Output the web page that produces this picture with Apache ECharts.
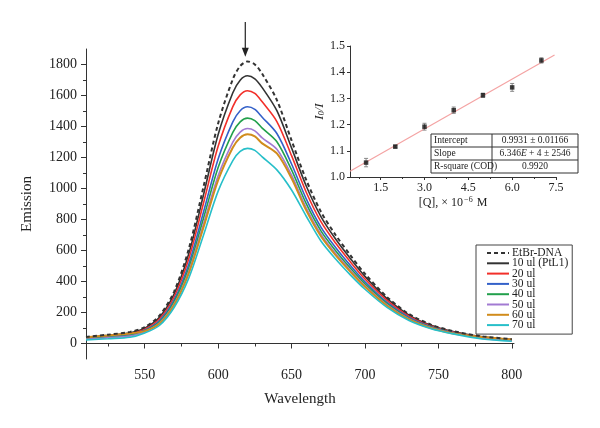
<!DOCTYPE html>
<html>
<head>
<meta charset="utf-8">
<script src="https://cdn.jsdelivr.net/npm/echarts@6/dist/echarts.min.js"></script>
<style>
html, body { margin: 0; padding: 0; background: #fff; }
#chart { width: 600px; height: 428px; }
</style>
</head>
<body>
<div id="chart"></div>
<script>
// emission spectra (wavelength in nm)
const wavelengths = [510, 525, 540, 550, 560, 570, 580, 590, 600, 610, 615, 620, 625, 630, 640, 650, 660, 670, 680, 690, 700, 715, 730, 745, 760, 780, 800]
const etbrDna = [42, 57, 75, 105, 180, 335, 610, 1010, 1420, 1705, 1790, 1820, 1800, 1740, 1570, 1310, 1055, 850, 700, 570, 450, 300, 190, 122, 80, 46, 28]
const ul10 = [39, 53, 69, 99, 169, 318, 579, 958, 1348, 1618, 1699, 1727, 1708, 1651, 1502, 1262, 1016, 819, 674, 549, 433, 289, 183, 117, 77, 43, 26]
const ul20 = [35, 48, 63, 92, 158, 300, 547, 905, 1272, 1528, 1604, 1631, 1613, 1559, 1432, 1212, 976, 786, 648, 527, 416, 278, 176, 113, 74, 40, 24]
const ul30 = [32, 43, 57, 86, 147, 281, 512, 847, 1191, 1430, 1502, 1527, 1510, 1460, 1355, 1158, 933, 751, 619, 504, 398, 265, 168, 108, 71, 37, 21]
const ul40 = [29, 40, 52, 81, 138, 268, 487, 807, 1135, 1362, 1430, 1454, 1438, 1390, 1302, 1120, 902, 727, 599, 487, 385, 257, 162, 104, 68, 35, 20]
const ul50 = [27, 37, 48, 76, 131, 255, 465, 770, 1082, 1299, 1364, 1387, 1372, 1326, 1253, 1086, 875, 705, 580, 473, 373, 249, 158, 101, 66, 33, 18]
const ul60 = [40, 52, 65, 80, 127, 249, 453, 749, 1054, 1265, 1328, 1350, 1336, 1291, 1226, 1066, 859, 692, 570, 464, 366, 244, 155, 99, 65, 42, 26]
const ul70 = [23, 31, 40, 68, 116, 232, 422, 699, 983, 1180, 1239, 1259, 1246, 1204, 1120, 990, 821, 661, 545, 443, 350, 233, 148, 95, 62, 29, 15]

const seriesNames = ['EtBr-DNA', '10 ul (PtL1)', '20 ul', '30 ul', '40 ul', '50 ul', '60 ul', '70 ul']
const seriesData = [etbrDna, ul10, ul20, ul30, ul40, ul50, ul60, ul70]
const seriesColors = ['#333333', '#333333', '#f2302a', '#3461c9', '#22a04c', '#a27ad2', '#d18c1c', '#27bfc9']

const xLabels = [550, 600, 650, 700, 750, 800]
const xMinor = [525, 575, 625, 675, 725, 775]
const yLabels = [0, 200, 400, 600, 800, 1000, 1200, 1400, 1600, 1800]
const yMinor = [100, 300, 500, 700, 900, 1100, 1300, 1500, 1700]

// inset: Stern-Volmer plot
const qConc = [1, 2, 3, 4, 5, 6, 7]
const ratioI0I = [1.055, 1.116, 1.192, 1.255, 1.312, 1.342, 1.445]
const ratioErr = [0.016, 0.005, 0.013, 0.012, 0.008, 0.015, 0.010]
const fitX = [0.45, 7.45]
const fitY = [1.022, 1.466]
const insetXLabels = [1.5, 3.0, 4.5, 6.0, 7.5]
const insetXMinor = [0.75, 2.25, 3.75, 5.25, 6.75]
const tableRows = [
    ['Intercept', '0.9931 ± 0.01166'],
    ['Slope', '6.346{it|E} + 4 ± 2546'],
    ['R-square (COD)', '0.9920']
]

const font = 'Liberation Serif, Times New Roman, serif'
const chart = echarts.init(document.getElementById('chart'))

// main spectra series (dashed one drawn last, on top)
const lines = seriesNames.map((name, i) => ({
    name: name,
    type: 'line',
    xAxisIndex: 0,
    yAxisIndex: 0,
    smooth: 0.3,
    symbol: 'none',
    showSymbol: false,
    z: i === 0 ? 10 : 2 + i,
    lineStyle: {
        color: seriesColors[i],
        width: i === 0 ? 2 : (i === 6 ? 2 : 1.6),
        type: i === 0 ? [4, 3] : 'solid'
    },
    itemStyle: { color: seriesColors[i] },
    data: wavelengths.map((w, k) => [w, seriesData[i][k]])
}))

// table inside the inset
const tbl = { x: 431, y: 134, w: 147, h: 13, split: 492 }
const tableGraphic = []
tableGraphic.push({
    type: 'rect', shape: { x: tbl.x, y: tbl.y, width: tbl.w, height: tbl.h * tableRows.length },
    style: { fill: '#fff', stroke: '#333', lineWidth: 1 }, z: 100
})
tableRows.forEach((row, r) => {
    if (r > 0) {
        tableGraphic.push({
            type: 'line', shape: { x1: tbl.x, y1: tbl.y + r * tbl.h, x2: tbl.x + tbl.w, y2: tbl.y + r * tbl.h },
            style: { stroke: '#333', lineWidth: 1 }, z: 101
        })
    }
    tableGraphic.push({
        type: 'text', x: tbl.x + 3, y: tbl.y + r * tbl.h + tbl.h / 2, z: 102,
        style: { text: row[0], font: '9.5px ' + font, fill: '#222', verticalAlign: 'middle' }
    })
    tableGraphic.push({
        type: 'text', x: (tbl.split + tbl.x + tbl.w) / 2, y: tbl.y + r * tbl.h + tbl.h / 2, z: 102,
        style: {
            text: row[1], font: '9.5px ' + font, fill: '#222', align: 'center', verticalAlign: 'middle',
            rich: { it: { fontStyle: 'italic', fontSize: 9.5, fontFamily: font } }
        }
    })
})
tableGraphic.push({
    type: 'line', shape: { x1: tbl.split, y1: tbl.y, x2: tbl.split, y2: tbl.y + tbl.h * tableRows.length },
    style: { stroke: '#333', lineWidth: 1 }, z: 101
})

const axisCommon = {
    axisLine: { show: true, lineStyle: { color: '#333', width: 1 } },
    splitLine: { show: false }
}

chart.setOption({
    animation: false,
    backgroundColor: '#fff',
    textStyle: { fontFamily: font },
    grid: [
        { left: 86, top: 49, width: 428, height: 310 },
        { left: 350, top: 46, width: 206, height: 131 }
    ],
    legend: {
        data: seriesNames,
        orient: 'vertical',
        left: 476,
        top: 245,
        itemWidth: 22,
        itemHeight: 10,
        itemGap: -1.7,
        padding: [2, 4, 3, 10],
        borderColor: '#444',
        borderWidth: 1,
        backgroundColor: '#fff',
        itemStyle: { opacity: 0, borderWidth: 0 },
        textStyle: { fontFamily: font, fontSize: 11.5, lineHeight: 10, height: 10, color: '#222', padding: [0, 0, 0, -2] }
    },
    xAxis: [
        {
            gridIndex: 0, type: 'value', min: 510, max: 801.5,
            name: 'Wavelength', nameLocation: 'middle', nameGap: 33,
            nameTextStyle: { fontFamily: font, fontSize: 15, color: '#222' },
            ...axisCommon,
            axisTick: { show: true, inside: false, length: 5, customValues: xLabels, lineStyle: { color: '#333' } },
            axisLabel: { customValues: xLabels, formatter: v => String(v), fontFamily: font, fontSize: 14, color: '#222', margin: 9 }
        },
        {
            gridIndex: 0, type: 'value', min: 510, max: 801.5, position: 'bottom',
            axisLine: { show: false }, splitLine: { show: false }, axisLabel: { show: false },
            axisTick: { show: true, length: 3, customValues: xMinor, lineStyle: { color: '#333' } }
        },
        {
            gridIndex: 1, type: 'value', min: 0.45, max: 7.5,
            name: '[Q], × 10{sup|−6} M', nameLocation: 'middle', nameGap: 19,
            nameTextStyle: {
                fontFamily: font, fontSize: 12, color: '#222',
                rich: { sup: { fontSize: 8, fontFamily: font, color: '#222', verticalAlign: 'top', padding: [0, 1, 5, 1] } }
            },
            ...axisCommon,
            axisTick: { show: true, length: 3, customValues: insetXLabels, lineStyle: { color: '#333' } },
            axisLabel: { customValues: insetXLabels, formatter: v => v.toFixed(1), fontFamily: font, fontSize: 12, color: '#222', margin: 5 }
        },
        {
            gridIndex: 1, type: 'value', min: 0.45, max: 7.5, position: 'bottom',
            axisLine: { show: false }, splitLine: { show: false }, axisLabel: { show: false },
            axisTick: { show: true, length: 2, customValues: insetXMinor, lineStyle: { color: '#333' } }
        }
    ],
    yAxis: [
        {
            gridIndex: 0, type: 'value', min: -100, max: 1900,
            name: 'Emission', nameLocation: 'middle', nameGap: 51, nameRotate: 90,
            nameTextStyle: { fontFamily: font, fontSize: 15, color: '#222' },
            ...axisCommon,
            axisTick: { show: true, length: 5, customValues: yLabels, lineStyle: { color: '#333' } },
            axisLabel: { customValues: yLabels, formatter: v => String(v), fontFamily: font, fontSize: 14, color: '#222', margin: 9 }
        },
        {
            gridIndex: 0, type: 'value', min: -100, max: 1900, position: 'left',
            axisLine: { show: false }, splitLine: { show: false }, axisLabel: { show: false },
            axisTick: { show: true, length: 3, customValues: yMinor, lineStyle: { color: '#333' } }
        },
        {
            gridIndex: 1, type: 'value', min: 1.0, max: 1.5, interval: 0.1,
            name: '{i|I}{s|0}{i|/I}', nameLocation: 'middle', nameGap: 19, nameRotate: 90,
            nameTextStyle: {
                fontFamily: font, fontSize: 13, color: '#222',
                rich: {
                    i: { fontFamily: font, fontStyle: 'italic', fontSize: 13, color: '#222' },
                    s: { fontFamily: font, fontStyle: 'italic', fontSize: 8, color: '#222', verticalAlign: 'bottom', padding: [6, 0, 0, 0] }
                }
            },
            ...axisCommon,
            axisTick: { show: true, length: 3, lineStyle: { color: '#333' } },
            axisLabel: { formatter: v => v.toFixed(1), fontFamily: font, fontSize: 12, color: '#222', margin: 5 }
        }
    ],
    series: [
        ...lines,
        {
            name: 'fit', type: 'line', xAxisIndex: 2, yAxisIndex: 2, symbol: 'none',
            lineStyle: { color: '#f4a3a3', width: 1.2 },
            data: fitX.map((x, i) => [x, fitY[i]]), z: 3
        },
        {
            name: 'err', type: 'custom', xAxisIndex: 2, yAxisIndex: 2, z: 4,
            data: qConc.map((q, i) => [q, ratioI0I[i] - ratioErr[i], ratioI0I[i] + ratioErr[i]]),
            encode: { x: 0, y: [1, 2] },
            renderItem: function (params, api) {
                const top = api.coord([api.value(0), api.value(2)])
                const bot = api.coord([api.value(0), api.value(1)])
                const st = { stroke: '#888', lineWidth: 1 }
                return {
                    type: 'group',
                    children: [
                        { type: 'line', shape: { x1: top[0], y1: top[1], x2: bot[0], y2: bot[1] }, style: st },
                        { type: 'line', shape: { x1: top[0] - 2, y1: top[1], x2: top[0] + 2, y2: top[1] }, style: st },
                        { type: 'line', shape: { x1: bot[0] - 2, y1: bot[1], x2: bot[0] + 2, y2: bot[1] }, style: st }
                    ]
                }
            }
        },
        {
            name: 'points', type: 'scatter', xAxisIndex: 2, yAxisIndex: 2, z: 5,
            symbol: 'rect', symbolSize: 4.5, itemStyle: { color: '#111' },
            data: qConc.map((q, i) => [q, ratioI0I[i]])
        }
    ],
    graphic: tableGraphic
})

// arrow above the EtBr-DNA maximum
const arrowTail = chart.convertToPixel({ xAxisIndex: 0, yAxisIndex: 0 }, [618.5, 2075])
const arrowTip = chart.convertToPixel({ xAxisIndex: 0, yAxisIndex: 0 }, [618.5, 1850])
chart.setOption({
    graphic: tableGraphic.concat([
        {
            type: 'line', z: 120,
            shape: { x1: arrowTail[0], y1: arrowTail[1], x2: arrowTip[0], y2: arrowTip[1] - 6 },
            style: { stroke: '#333', lineWidth: 1.3 }
        },
        {
            type: 'polygon', z: 120,
            shape: { points: [[arrowTip[0] - 3.5, arrowTip[1] - 9], [arrowTip[0] + 3.5, arrowTip[1] - 9], [arrowTip[0], arrowTip[1]]] },
            style: { fill: '#222' }
        }
    ])
})
</script>
</body>
</html>
